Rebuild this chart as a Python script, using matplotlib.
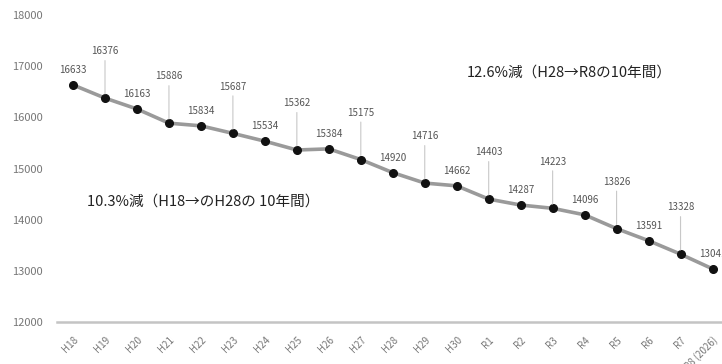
import matplotlib.pyplot as plt

plt.rcParams['font.family'] = ['Noto Sans CJK JP', 'DejaVu Sans']

years = ['H18', 'H19', 'H20', 'H21', 'H22', 'H23', 'H24', 'H25', 'H26', 'H27',
         'H28', 'H29', 'H30', 'R1', 'R2', 'R3', 'R4', 'R5', 'R6', 'R7', 'R8 (2026)']
values = [16633, 16376, 16163, 15886, 15834, 15687, 15534, 15362, 15384, 15175,
          14920, 14716, 14662, 14403, 14287, 14223, 14096, 13826, 13591, 13328, 13041]
# labels drawn higher with a leader line
callout = [1, 3, 5, 7, 9, 11, 13, 15, 17, 19]

fig = plt.figure(figsize=(7.22, 3.64), dpi=100)
ax = fig.add_axes([0.079, 0.115, 0.93, 0.844])

x = list(range(len(years)))
ax.plot(x, values, color='#9a9a9a', lw=2.6, zorder=2)
ax.plot(x, values, 'o', color='#111111', ms=5.5, zorder=3)

for i, v in enumerate(values):
    if i in callout:
        ax.annotate(str(v), (i, v), xytext=(0, 30), textcoords='offset points',
                    ha='center', va='bottom', fontsize=7, color='#555555',
                    arrowprops=dict(arrowstyle='-', color='#c8c8c8', lw=0.8,
                                    shrinkA=1, shrinkB=3))
    else:
        ax.annotate(str(v), (i, v), xytext=(0, 7), textcoords='offset points',
                    ha='center', va='bottom', fontsize=7, color='#555555')

ax.text(12.3, 16870, '12.6%減（H28→R8の10年間）', fontsize=10.5, color='#222222',
        va='center')
ax.text(0.45, 14350, '10.3%減（H18→のH28の 10年間）', fontsize=10.5, color='#222222',
        va='center')

ax.set_xlim(-0.5, 20.5)
ax.set_ylim(12000, 18000)
ax.set_yticks(range(12000, 18001, 1000))
ax.set_xticks(x)
ax.set_xticklabels(years, rotation=45, ha='right', rotation_mode='anchor',
                   fontsize=7, color='#777777')
ax.tick_params(axis='y', labelsize=8, colors='#777777', length=0, pad=10)
ax.tick_params(axis='x', length=0, pad=9)

for s in ['top', 'right', 'left']:
    ax.spines[s].set_visible(False)
ax.spines['bottom'].set_color('#c4c4c4')
ax.spines['bottom'].set_linewidth(1.8)

fig.savefig('out.png', dpi=100)
